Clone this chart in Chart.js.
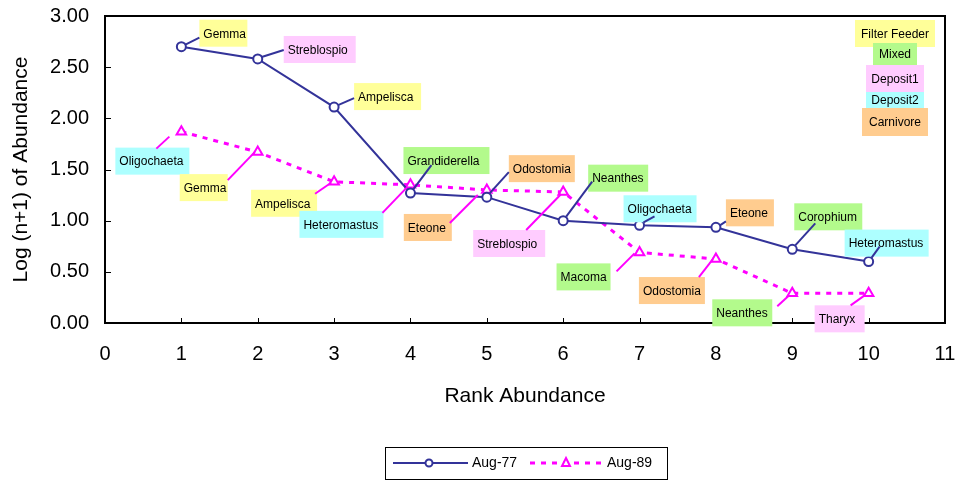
<!DOCTYPE html>
<html>
<head>
<meta charset="utf-8">
<script src="https://cdn.jsdelivr.net/npm/chart.js@4/dist/chart.umd.min.js"></script>
<style>
  html, body { margin: 0; padding: 0; background: #fff; }
  #wrap { width: 957px; height: 480px; }
</style>
</head>
<body>
<div id="wrap"><canvas id="rankChart" width="957" height="480"></canvas></div>
<script>
// =============================================================================
// Data
// =============================================================================
const RANKS = [1, 2, 3, 4, 5, 6, 7, 8, 9, 10];
const AUG77 = [2.70, 2.58, 2.11, 1.27, 1.23, 1.00, 0.955, 0.935, 0.72, 0.60];
const AUG89 = [1.87, 1.67, 1.38, 1.35, 1.30, 1.28, 0.69, 0.625, 0.29, 0.29];

const TAXA77 = ['Gemma', 'Streblospio', 'Ampelisca', 'Grandiderella', 'Odostomia',
                'Neanthes', 'Oligochaeta', 'Eteone', 'Corophium', 'Heteromastus'];
const FEED77 = ['Filter Feeder', 'Deposit1', 'Filter Feeder', 'Mixed', 'Carnivore',
                'Mixed', 'Deposit2', 'Carnivore', 'Mixed', 'Deposit2'];

const TAXA89 = ['Oligochaeta', 'Gemma', 'Ampelisca', 'Heteromastus', 'Eteone',
                'Streblospio', 'Macoma', 'Odostomia', 'Neanthes', 'Tharyx'];
const FEED89 = ['Deposit2', 'Filter Feeder', 'Filter Feeder', 'Deposit2', 'Carnivore',
                'Deposit1', 'Mixed', 'Carnivore', 'Mixed', 'Deposit1'];

const GROUPS = ['Filter Feeder', 'Mixed', 'Deposit1', 'Deposit2', 'Carnivore'];

// =============================================================================
// Styles / layout (label boxes are placed relative to their point, in px)
// =============================================================================
const FONT = "'Liberation Sans', Arial, sans-serif";
const GROUP_COLORS = {
  'Filter Feeder': '#ffff99',
  'Mixed': '#b3fa8c',
  'Deposit1': '#ffccff',
  'Deposit2': '#adffff',
  'Carnivore': '#ffcc8f'
};
// [boxDx, boxDy, boxW, leaderX1, leaderY1, leaderX2, leaderY2]
const POS77 = [
  [18, -27, 48, 4, -2, 18, -9],
  [26, -23, 72, 4, -2, 26, -9],
  [20, -24, 67, 4, -2, 20, -9],
  [-7, -46, 86, 3, -4, 21, -28],
  [22, -42, 66, 3, -4, 22, -25],
  [25, -56, 60, 3, -4, 29, -39],
  [-16, -30, 73, 4, -3, 15, -9],
  [10, -28, 48, 4, -2, 10, -6],
  [2, -46, 68, 3, -4, 23, -26],
  [-24, -32, 84, 3, -4, 11, -15]
];
const POS89 = [
  [-66, 16, 74, -12, 5, -25, 17],
  [-78, 22, 48, -3, 0, -30, 28],
  [-83, 8, 66, -3, 1, -19, 12],
  [-111, 26, 84, -3, 2, -28, 28],
  [-83, 24, 48, -9, 5, -37, 33],
  [-90, 38, 72, -2, 2, -37, 38],
  [-83, 11, 54, -5, 1, -23, 19],
  [-77, 18, 66, -3, 0, -17, 18],
  [-80, 6, 60, -3, 2, -15, 13],
  [-54, 12, 50, -4, 2, -18, 12]
];
// key boxes top right: [width, topFromArea, height]
const KEY_BOXES = [[80, 4, 27], [44, 27, 22], [58, 49, 27], [58, 76, 16], [66, 92, 28]];

// =============================================================================
// Plugin: frame, inside ticks, species labels, feeding key, legend
// =============================================================================
function drawBox(ctx, x, y, w, h, color, text, centered) {
  ctx.fillStyle = color;
  ctx.fillRect(x, y, w, h);
  ctx.fillStyle = '#000';
  ctx.font = '12px ' + FONT;
  ctx.textBaseline = 'middle';
  ctx.textAlign = centered ? 'center' : 'left';
  ctx.fillText(text, centered ? x + w / 2 : x + 4, y + h / 2 + 1);
}

const extras = {
  id: 'extras',
  afterDatasetsDraw(chart) {
    const { ctx, chartArea: a, scales } = chart;
    ctx.save();

    // frame + tick marks pointing inward
    ctx.strokeStyle = '#000';
    ctx.lineWidth = 2;
    ctx.strokeRect(a.left, a.top, a.right - a.left, a.bottom - a.top);
    ctx.beginPath();
    scales.y.ticks.forEach(t => {
      const y = Math.round(scales.y.getPixelForValue(t.value)) + 0.5;
      ctx.moveTo(a.left, y); ctx.lineTo(a.left + 6, y);
    });
    scales.x.ticks.forEach(t => {
      const x = Math.round(scales.x.getPixelForValue(t.value)) + 0.5;
      ctx.moveTo(x, a.bottom); ctx.lineTo(x, a.bottom - 5);
    });
    ctx.lineWidth = 1;
    ctx.stroke();

    // species labels
    const sets = [[TAXA77, FEED77, POS77], [TAXA89, FEED89, POS89]];
    sets.forEach(([taxa, feed, pos], d) => {
      const meta = chart.getDatasetMeta(d);
      const col = chart.data.datasets[d].borderColor;
      meta.data.forEach((pt, i) => {
        const p = pos[i];
        drawBox(ctx, pt.x + p[0], pt.y + p[1], p[2], 27, GROUP_COLORS[feed[i]], taxa[i], false);
        ctx.strokeStyle = col;
        ctx.lineWidth = 2;
        ctx.setLineDash([]);
        ctx.beginPath();
        ctx.moveTo(pt.x + p[3], pt.y + p[4]);
        ctx.lineTo(pt.x + p[5], pt.y + p[6]);
        ctx.stroke();
      });
    });

    // feeding group key
    const cx = a.right - 50;
    GROUPS.forEach((g, i) => {
      const [w, t, h] = KEY_BOXES[i];
      drawBox(ctx, cx - w / 2, a.top + t, w, h, GROUP_COLORS[g], g, true);
    });

    // legend
    const lx = 385.5, ly = 447.5, lw = 282, lh = 32, my = 463;
    ctx.strokeStyle = '#000';
    ctx.lineWidth = 1;
    ctx.strokeRect(lx, ly, lw, lh);
    const ds = chart.data.datasets;
    const items = [[393, 468, 429, 472], [530, 603, 566, 607]];
    items.forEach(([x1, x2, mx, tx], d) => {
      ctx.strokeStyle = ds[d].borderColor;
      ctx.lineWidth = ds[d].borderWidth;
      ctx.setLineDash(ds[d].borderDash || []);
      ctx.beginPath(); ctx.moveTo(x1, my); ctx.lineTo(x2, my); ctx.stroke();
      ctx.setLineDash([]);
      ctx.lineWidth = 2;
      ctx.fillStyle = '#fff';
      ctx.beginPath();
      if (d === 0) {
        ctx.arc(mx, my, 3.5, 0, Math.PI * 2);
      } else {
        ctx.moveTo(mx, my - 5); ctx.lineTo(mx + 4, my + 3); ctx.lineTo(mx - 4, my + 3); ctx.closePath();
      }
      ctx.fill(); ctx.stroke();
      ctx.fillStyle = '#000';
      ctx.font = '14px ' + FONT;
      ctx.textAlign = 'left';
      ctx.textBaseline = 'middle';
      ctx.fillText(ds[d].label, tx, my);
    });
    ctx.restore();
  }
};

// =============================================================================
// Chart
// =============================================================================
Chart.defaults.font.family = FONT;
Chart.defaults.color = '#000';

new Chart(document.getElementById('rankChart'), {
  type: 'line',
  data: {
    datasets: [
      {
        label: 'Aug-77',
        data: RANKS.map((r, i) => ({ x: r, y: AUG77[i] })),
        borderColor: '#333399',
        borderWidth: 2,
        pointStyle: 'circle',
        pointRadius: 4.5,
        pointBorderWidth: 2,
        pointBackgroundColor: '#fff',
        pointBorderColor: '#333399',
        tension: 0
      },
      {
        label: 'Aug-89',
        data: RANKS.map((r, i) => ({ x: r, y: AUG89[i] })),
        borderColor: '#ff00ff',
        borderWidth: 3,
        borderDash: [5, 6],
        pointStyle: 'triangle',
        pointRadius: 5.5,
        pointBorderWidth: 2,
        pointBackgroundColor: '#fff',
        pointBorderColor: '#ff00ff',
        tension: 0
      }
    ]
  },
  options: {
    responsive: false,
    animation: false,
    layout: { padding: { top: 16, right: 12, left: 0, bottom: 70 } },
    plugins: { legend: { display: false }, tooltip: { enabled: false } },
    scales: {
      x: {
        type: 'linear',
        min: 0, max: 11,
        grid: { display: false, drawTicks: false },
        border: { display: false },
        ticks: { stepSize: 1, padding: 19, font: { size: 20 }, color: '#000' },
        title: { display: true, text: 'Rank Abundance', font: { size: 21 }, padding: { top: 0, bottom: 1 } },
        afterFit: s => { s.height = 87; s.paddingLeft = 0; s.paddingRight = 0; }
      },
      y: {
        min: 0, max: 3,
        grid: { display: false, drawTicks: false },
        border: { display: false },
        ticks: { stepSize: 0.5, padding: 16, font: { size: 20 }, color: '#000', callback: v => v.toFixed(2) },
        title: { display: true, text: 'Log (n+1) of Abundance', font: { size: 21 }, padding: { top: 9, bottom: 0 } },
        afterFit: s => { s.width = 105; s.paddingTop = 0; s.paddingBottom = 0; }
      }
    }
  },
  plugins: [extras]
});
</script>
</body>
</html>
